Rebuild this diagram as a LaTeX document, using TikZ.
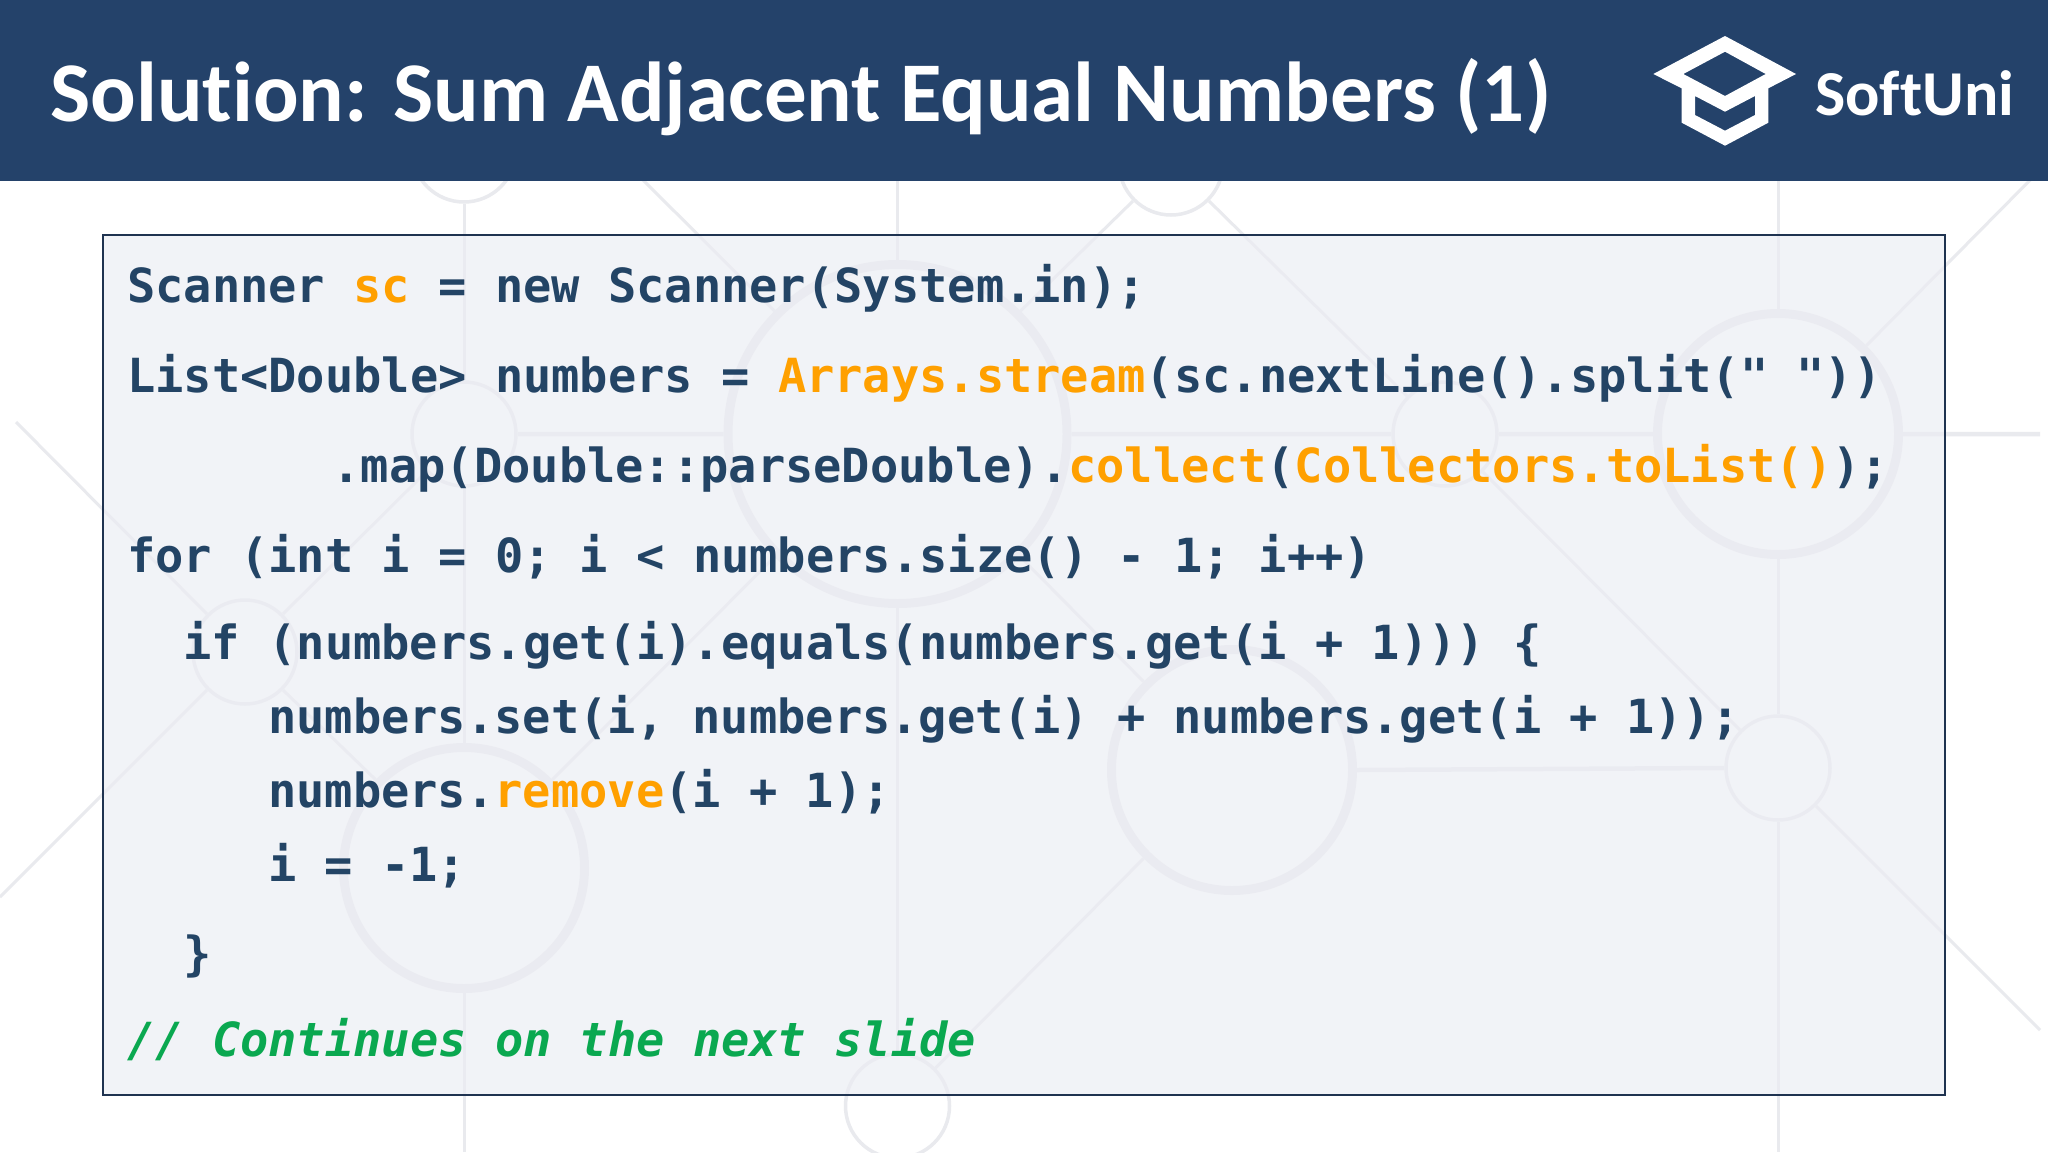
\documentclass[tikz,border=0pt]{standalone}
\usepackage{fontspec}
\setmainfont{Carlito}[Ligatures=NoCommon]
\newfontfamily\codefont{DejaVu Sans Mono}
\definecolor{navy}{HTML}{24426A}
\definecolor{ink}{HTML}{234465}
\definecolor{hot}{HTML}{FFA000}
\definecolor{note}{HTML}{0AA850}
\definecolor{net}{HTML}{E9EAEE}
\definecolor{panel}{HTML}{EBEDF3}
\definecolor{edge}{HTML}{1F3350}
\newcommand{\hl}[1]{\textcolor{hot}{#1}}
\tikzset{
  x=1pt,y=-1pt,
  ringbig/.style={circle,draw=net,line width=9pt,inner sep=0pt,minimum size=241pt},
  ringhuge/.style={circle,draw=net,line width=9pt,inner sep=0pt,minimum size=339pt},
  ringsmall/.style={circle,draw=net,line width=3.5pt,inner sep=0pt,minimum size=104pt},
  wire/.style={draw=net,line width=3pt},
  wirefat/.style={draw=net,line width=4.5pt},
  code/.style={anchor=base west,inner sep=0pt,text=ink,font=\codefont\bfseries\fontsize{47}{47}\selectfont},
}
\begin{document}
\begin{tikzpicture}
\useasboundingbox (0,0) rectangle (2048,1152);
\fill[white] (0,0) rectangle (2048,1152);
% background network
\node[ringsmall] (A) at (464,150) {};
\node[ringsmall] (B) at (464,434) {};
\node[ringhuge]  (C) at (897.5,434) {};
\node[ringsmall] (D) at (1171,163) {};
\node[ringsmall] (E) at (1445,434) {};
\node[ringbig]   (F) at (1778,434) {};
\node[ringsmall] (G) at (245,652) {};
\node[ringbig]   (H) at (464,868) {};
\node[ringsmall] (I) at (897.5,1106) {};
\node[ringbig]   (J) at (1232,770) {};
\node[ringsmall] (K) at (1778,768) {};
\coordinate (a1) at (16,422);
\coordinate (a2) at (0,897);
\coordinate (a3) at (643,180);
\coordinate (a4) at (2040,170);
\coordinate (a5) at (2040,1030);
\coordinate (a6) at (2040,434);
\coordinate (t1) at (897.5,150);
\coordinate (t2) at (1778,150);
\coordinate (b1) at (464,1152);
\coordinate (b2) at (1778,1152);
\draw[wire] (A.south)--(B.north) (B.south)--(H.north) (H.south)--(b1);
\draw[wire] (t1)--(C.north) (C.south)--(I.north);
\draw[wire] (t2)--(F.north) (F.south)--(K.north) (K.south)--(b2);
\draw[wirefat] (B.east)--(C.west) (C.east)--(E.west) (E.east)--(F.west) (F.east)--(a6) (J.east)--(K.west);
\draw[wire] (a1)--(G.135) (G.45)--(B.225) (G.225)--(a2) (G.315)--(H.135);
\draw[wire] (H.45)--(C.225) (C.135)--(a3) (D.225)--(C.45) (D.315)--(E.135);
\draw[wire] (C.315)--(J.135) (E.315)--(K.135) (J.225)--(I.45) (K.315)--(a5) (F.45)--(a4);
% code panel
\fill[panel,fill opacity=.65] (103,235) rectangle (1945,1095);
\draw[edge,line width=1.6pt] (103,235) rectangle (1945,1095);
\node[code] (l1) at (127,302) {Scanner \hl{sc} = new Scanner(System.in);};
\node[code] (l2) at (127,392) {List<Double> numbers = \hl{Arrays.stream}(sc.nextLine().split(" "))};
\node[code] (l3) at (332.5,482) {.map(Double::parseDouble).\hl{collect}(\hl{Collectors.toList()});};
\node[code] (l4) at (127,572) {for (int i = 0; i < numbers.size() - 1; i++)};
\node[code] (l5) at (183.4,659) {if (numbers.get(i).equals(numbers.get(i + 1))) \{};
\node[code] (l6) at (268,733) {numbers.set(i, numbers.get(i) + numbers.get(i + 1));};
\node[code] (l7) at (268,807) {numbers.\hl{remove}(i + 1);};
\node[code] (l8) at (268,881) {i = -1;};
\node[code] (l9) at (183.4,970) {\}};
\node[code,text=note,font=\codefont\bfseries\itshape\fontsize{47}{47}\selectfont] (l10) at (127,1056) {// Continues on the next slide};
% header
\fill[navy] (0,0) rectangle (2048,181);
\node[anchor=base west,inner sep=0pt,text=white,font=\bfseries\fontsize{85}{85}\selectfont] (title) at (50,121) {Solution: Sum Adjacent Equal Numbers (1)};
\fill[white,even odd rule]
  (1653.3,74)--(1725,36)--(1796,74)--(1768.3,88.3)--(1768.3,122.7)--(1725,145.7)--(1681.7,122.7)--(1681.7,88.3)--cycle
  (1683.3,74)--(1725,51.7)--(1765.7,74)--(1725,96)--cycle
  (1695,96)--(1725,111.7)--(1755,96)--(1755,115)--(1725,130.7)--(1695,115)--cycle;
\node[anchor=base west,inner sep=0pt,text=white,font=\bfseries\fontsize{64}{64}\selectfont] (brand) at (1815,115) {SoftUni};
\end{tikzpicture}
\end{document}
